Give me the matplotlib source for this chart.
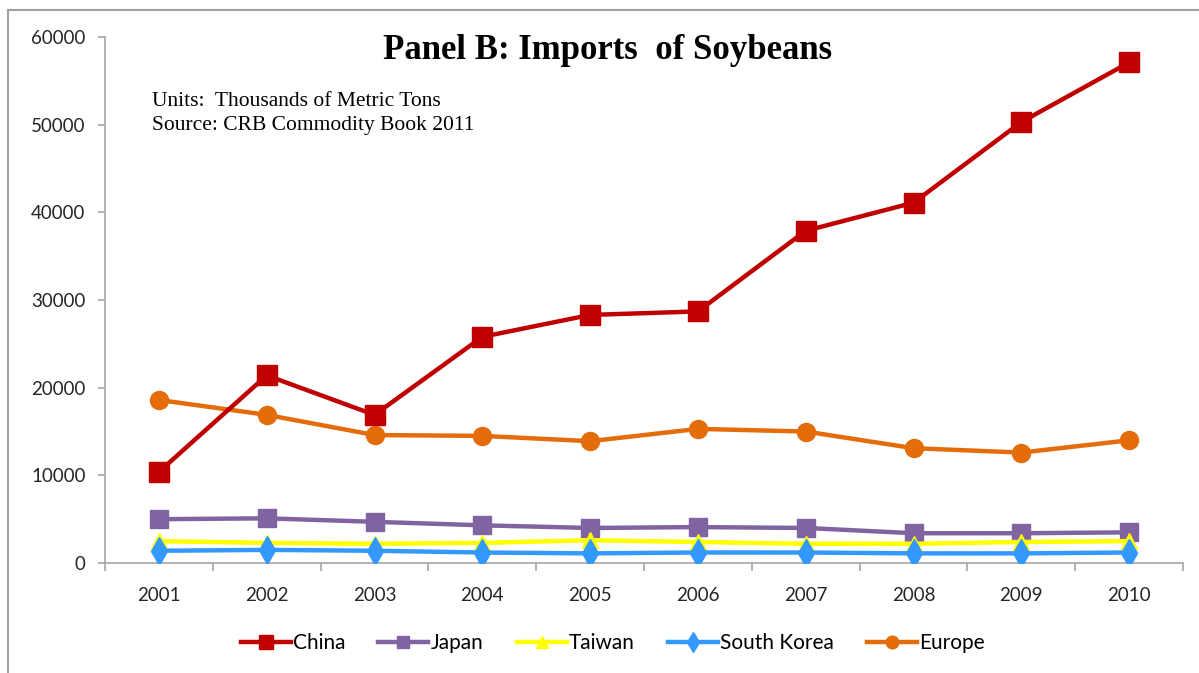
import numpy as np
import matplotlib.pyplot as plt
from matplotlib.patches import Rectangle

# Soybean imports, thousands of metric tons
years = ['2001', '2002', '2003', '2004', '2005', '2006', '2007', '2008', '2009', '2010']
china = [10400, 21400, 16900, 25800, 28300, 28700, 37900, 41100, 50300, 57100]
japan = [5000, 5100, 4700, 4300, 4000, 4100, 4000, 3400, 3400, 3500]
taiwan = [2500, 2300, 2200, 2300, 2600, 2400, 2200, 2200, 2400, 2500]
south_korea = [1400, 1500, 1400, 1200, 1100, 1200, 1200, 1100, 1100, 1200]
europe = [18600, 16900, 14600, 14500, 13900, 15300, 15000, 13100, 12600, 14000]

tick_font = 'Lato'
serif_font = 'Liberation Serif'
axis_grey = '#A6A6A6'

fig = plt.figure(figsize=(11.99, 6.73), dpi=100)
ax = fig.add_axes([0.0876, 0.1634, 0.8991, 0.7816])

x = np.arange(len(years))
ax.plot(x, china, color='#C00000', lw=3.2, marker='s', ms=14, label='China', zorder=6)
ax.plot(x, japan, color='#8064A2', lw=3.2, marker='s', ms=13, label='Japan', zorder=3)
ax.plot(x, taiwan, color='#FFFF00', lw=3.2, marker='^', ms=12, label='Taiwan', zorder=4)
ax.plot(x, south_korea, color='#3399FF', lw=3.2, marker='d', ms=14, label='South Korea', zorder=5)
ax.plot(x, europe, color='#E46C0A', lw=3.2, marker='o', ms=13, label='Europe', zorder=5)

ax.set_xlim(-0.5, len(years) - 0.5)
ax.set_ylim(0, 60000)
ax.set_yticks(np.arange(0, 60001, 10000))
ax.set_yticklabels([str(v) for v in range(0, 60001, 10000)], fontfamily=tick_font, fontsize=13.5, color='#262626')
ax.set_xticks(x)
ax.set_xticklabels(years, fontfamily=tick_font, fontsize=13.5, color='#262626')
ax.set_xticks(np.arange(-0.5, len(years)), minor=True)
ax.tick_params(axis='x', which='major', length=0, pad=17)
ax.tick_params(axis='x', which='minor', length=6, color=axis_grey, width=1.2)
ax.tick_params(axis='y', length=5, color=axis_grey, width=1.2, pad=9)

for spine in ['top', 'right']:
    ax.spines[spine].set_visible(False)
for spine in ['left', 'bottom']:
    ax.spines[spine].set_color(axis_grey)
    ax.spines[spine].set_linewidth(1.2)

fig.text(0.507, 0.925, 'Panel B: Imports  of Soybeans', ha='center', va='center',
         fontfamily=serif_font, fontweight='bold', fontsize=25)
fig.text(0.127, 0.849, 'Units:  Thousands of Metric Tons', ha='left', va='center',
         fontfamily=serif_font, fontsize=15.5)
fig.text(0.127, 0.813, 'Source: CRB Commodity Book 2011', ha='left', va='center',
         fontfamily=serif_font, fontsize=15.5)

fig.legend(loc='center', bbox_to_anchor=(0.511, 1 - 643 / 673), ncol=5, frameon=False,
           prop={'family': tick_font, 'size': 15}, handlelength=2.4, handletextpad=0.1,
           columnspacing=1.6, markerscale=0.7)

# outer chart frame
fig.patches.append(Rectangle((8 / 1199, -0.05), 1.2, 1 - 10 / 673 + 0.05,
                             transform=fig.transFigure, fill=False,
                             edgecolor='#A0A0A0', lw=1.5))

fig.savefig('out.png', dpi=100)
